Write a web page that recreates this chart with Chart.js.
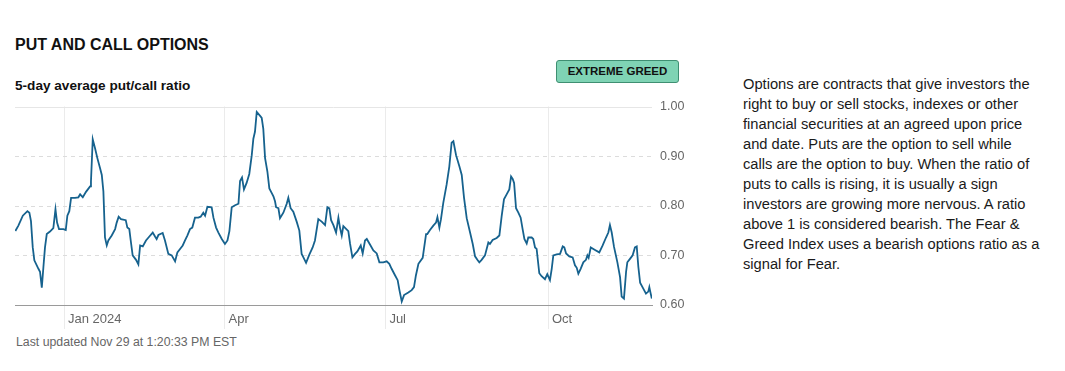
<!DOCTYPE html>
<html>
<head>
<meta charset="utf-8">
<script src="https://cdn.jsdelivr.net/npm/chart.js@4"></script>
<style>
  body { margin: 0; background: #fff; font-family: "Liberation Sans", Arial, sans-serif; color: #111; }
  #wrap { position: relative; width: 1065px; height: 371px; overflow: hidden; }
  .title { position: absolute; left: 15px; top: 36px; font-size: 16px; line-height: 18px; font-weight: bold; color: #111; }
  .sub { position: absolute; left: 15px; top: 78px; font-size: 13.6px; line-height: 16px; font-weight: bold; color: #111; }
  .badge { position: absolute; left: 556px; top: 60px; width: 121px; height: 21px; background: #7fd3b4; border: 1px solid #3f8f72; border-radius: 3px;
           font-size: 11.5px; line-height: 21px; font-weight: bold; text-align: center; color: #111; }
  .updated { position: absolute; left: 16px; top: 334px; font-size: 12.3px; line-height: 16px; color: #666; }
  .desc { position: absolute; left: 743px; top: 74px; width: 320px; font-size: 14.7px; line-height: 20px; color: #1a1a1a; white-space: nowrap; }
  #box { position: absolute; left: 15px; top: 91px; width: 677px; height: 239px; }
</style>
</head>
<body>
<div id="wrap">
  <div class="title">PUT AND CALL OPTIONS</div>
  <div class="sub">5-day average put/call ratio</div>
  <div class="badge">EXTREME GREED</div>
  <div id="box"><canvas id="pcChart"></canvas></div>
  <div class="updated">Last updated Nov 29 at 1:20:33 PM EST</div>
  <div class="desc">Options are contracts that give investors the<br>right to buy or sell stocks, indexes or other<br>financial securities at an agreed upon price<br>and date. Puts are the option to sell while<br>calls are the option to buy. When the ratio of<br>puts to calls is rising, it is usually a sign<br>investors are growing more nervous. A ratio<br>above 1 is considered bearish. The Fear &amp;<br>Greed Index uses a bearish options ratio as a<br>signal for Fear.</div>
</div>
<script>
// x position of each reading, in days counted from the start of 2024 (approx.)
const days = [
  -28.0, -26.3, -23.8, -21.2, -20.1, -19.2, -18.2, -17.3, -15.0, -14.1, -13.1, -12.2, -11.3, -10.3, -8.5, -6.6, -5.4, -4.5, -3.4, -0.9,
  0.4, 1.3, 2.4, 3.4, 5.6, 7.5, 8.5, 10.0, 11.8, 14.1, 14.6, 15.6, 16.9, 18.2, 19.7, 20.7, 21.6, 22.5, 23.5, 24.4,
  26.3, 28.2, 29.1, 30.2, 31.5, 34.2, 35.1, 36.2, 37.0, 38.1, 40.0, 41.3, 42.3, 43.8, 45.6, 47.5, 49.4, 50.7, 51.6, 52.6,
  55.0, 56.3, 58.2, 60.1, 62.0, 63.3, 64.8, 66.3, 67.6, 68.9, 70.4, 71.7, 73.2, 75.1, 76.4, 77.9, 78.9, 80.2, 82.6, 83.6,
  85.1, 86.4, 88.3, 90.1, 91.5, 92.6, 93.9, 95.8, 97.7, 98.6, 99.7, 100.8, 102.3, 103.8, 105.2, 106.1, 107.0, 108.0, 109.9, 110.8,
  111.7, 112.7, 114.0, 115.1, 116.4, 117.4, 118.3, 118.9, 120.2, 121.1, 123.0, 124.9, 125.8, 127.1, 128.6, 130.5, 132.0, 133.3, 134.3, 135.8,
  137.7, 139.5, 140.8, 142.7, 144.6, 146.5, 147.8, 148.9, 149.9, 151.2, 152.7, 154.0, 154.9, 155.9, 156.8, 159.6, 160.6, 161.9, 163.4, 164.7,
  166.6, 167.7, 169.0, 170.0, 171.8, 173.7, 175.6, 177.1, 179.3, 181.2, 182.7, 184.0, 185.9, 187.4, 188.4, 189.7, 191.0, 193.4, 195.3, 196.6,
  197.7, 199.1, 201.5, 203.4, 204.1, 205.6, 207.5, 209.0, 209.8, 210.9, 211.8, 213.1, 215.0, 216.5, 217.8, 218.8, 220.3, 222.2, 223.5, 224.8,
  226.3, 228.2, 229.7, 231.0, 232.3, 233.4, 234.7, 236.6, 238.5, 239.4, 240.9, 243.2, 244.7, 246.0, 247.3, 248.8, 250.3, 251.3, 252.2, 253.0,
  254.1, 255.4, 256.7, 257.8, 258.8, 260.1, 261.0, 262.9, 263.8, 264.8, 265.7, 267.2, 268.5, 270.4, 271.7, 273.2, 274.2, 275.1, 277.0, 278.9,
  280.4, 281.3, 282.3, 284.1, 286.0, 287.3, 288.3, 289.2, 290.5, 292.0, 293.5, 294.3, 295.0, 296.2, 298.6, 301.0, 302.9, 304.8, 306.1, 307.0,
  308.0, 309.3, 311.2, 312.7, 313.6, 314.9, 316.1, 316.8, 318.3, 319.8, 321.1, 322.1, 323.0, 324.0, 325.8, 327.3, 328.6, 329.2, 329.9, 330.6
];

// 5-day average put/call ratio
const ratio = [
  0.749, 0.760, 0.780, 0.789, 0.786, 0.769, 0.716, 0.690, 0.673, 0.667, 0.635, 0.676, 0.716, 0.743, 0.748, 0.755, 0.793, 0.766, 0.753, 0.753,
  0.751, 0.780, 0.789, 0.816, 0.816, 0.817, 0.823, 0.817, 0.828, 0.839, 0.849, 0.934, 0.916, 0.896, 0.876, 0.862, 0.829, 0.736, 0.720, 0.730,
  0.740, 0.753, 0.766, 0.778, 0.773, 0.771, 0.756, 0.753, 0.730, 0.700, 0.691, 0.682, 0.720, 0.718, 0.730, 0.738, 0.746, 0.738, 0.733, 0.741,
  0.745, 0.730, 0.703, 0.700, 0.688, 0.706, 0.713, 0.720, 0.730, 0.740, 0.753, 0.756, 0.776, 0.776, 0.778, 0.786, 0.780, 0.798, 0.797, 0.776,
  0.756, 0.746, 0.733, 0.723, 0.730, 0.749, 0.797, 0.801, 0.804, 0.850, 0.857, 0.833, 0.846, 0.864, 0.902, 0.935, 0.949, 0.989, 0.981, 0.977,
  0.955, 0.896, 0.869, 0.835, 0.826, 0.819, 0.809, 0.797, 0.795, 0.775, 0.786, 0.804, 0.816, 0.795, 0.788, 0.768, 0.750, 0.703, 0.696, 0.685,
  0.702, 0.716, 0.730, 0.773, 0.768, 0.761, 0.797, 0.795, 0.771, 0.761, 0.746, 0.776, 0.756, 0.740, 0.759, 0.749, 0.723, 0.696, 0.703, 0.708,
  0.720, 0.704, 0.730, 0.733, 0.722, 0.710, 0.704, 0.686, 0.686, 0.688, 0.683, 0.673, 0.660, 0.650, 0.630, 0.607, 0.620, 0.625, 0.630, 0.636,
  0.660, 0.683, 0.695, 0.743, 0.743, 0.751, 0.760, 0.766, 0.777, 0.756, 0.773, 0.806, 0.843, 0.879, 0.927, 0.930, 0.902, 0.879, 0.862, 0.816,
  0.775, 0.746, 0.723, 0.698, 0.691, 0.686, 0.691, 0.700, 0.726, 0.723, 0.731, 0.735, 0.740, 0.779, 0.813, 0.823, 0.833, 0.859, 0.854, 0.846,
  0.795, 0.786, 0.776, 0.753, 0.733, 0.724, 0.736, 0.736, 0.733, 0.716, 0.713, 0.664, 0.658, 0.652, 0.662, 0.650, 0.673, 0.700, 0.702, 0.703,
  0.718, 0.716, 0.704, 0.698, 0.696, 0.680, 0.675, 0.663, 0.673, 0.686, 0.691, 0.700, 0.695, 0.716, 0.711, 0.706, 0.720, 0.736, 0.746, 0.761,
  0.746, 0.717, 0.686, 0.656, 0.617, 0.613, 0.667, 0.686, 0.693, 0.700, 0.716, 0.718, 0.677, 0.645, 0.633, 0.623, 0.627, 0.636, 0.624, 0.613
];

// where the month labels sit (same day units as above)
const tickDays = [-0.4, 90.1, 180.7, 272.3];
const tickLabels = ['Jan 2024', 'Apr', 'Jul', 'Oct'];
const yTicks = [0.6, 0.7, 0.8, 0.9, 1.0];

// horizontal grid: solid line at the top, dashed in between
const yGrid = {
    id: 'yGrid',
    beforeDatasetsDraw(chart) {
        const ctx = chart.ctx;
        const area = chart.chartArea;
        const y = chart.scales.y;
        ctx.save();
        ctx.lineWidth = 1;
        yTicks.forEach(v => {
            if (v === 0.6) return;
            const py = Math.round(y.getPixelForValue(v)) + 0.5;
            ctx.strokeStyle = v === 1.0 ? '#e6e6e6' : '#dcdcdc';
            ctx.setLineDash(v === 1.0 ? [] : [4, 4]);
            ctx.beginPath();
            ctx.moveTo(area.left, py);
            ctx.lineTo(area.right, py);
            ctx.stroke();
        });
        ctx.restore();
    }
};

const ctx = document.getElementById('pcChart').getContext('2d');
new Chart(ctx, {
    type: 'line',
    data: {
        datasets: [{
            data: days.map((d, i) => ({ x: d, y: ratio[i] })),
            borderColor: '#16628e',
            borderWidth: 1.8,
            pointRadius: 0,
            tension: 0,
            fill: false
        }]
    },
    options: {
        responsive: true,
        maintainAspectRatio: false,
        animation: false,
        layout: { padding: { top: 9, left: 0, right: 0, bottom: 0 } },
        plugins: { legend: { display: false }, tooltip: { enabled: false } },
        scales: {
            x: {
                type: 'linear',
                min: -28.2,
                max: 330.7,
                afterBuildTicks: s => { s.ticks = tickDays.map(v => ({ value: v })); },
                afterFit: s => { s.height = 25; },
                grid: { color: '#ebebeb', drawTicks: true, tickLength: 24 },
                border: { display: true, color: '#9a9a9a', width: 1 },
                ticks: {
                    autoSkip: false,
                    maxRotation: 0,
                    align: 'start',
                    padding: -17,
                    color: '#666',
                    font: { family: '"Liberation Sans", Arial, sans-serif', size: 13 },
                    callback: (v, i) => ' ' + tickLabels[i]
                }
            },
            y: {
                position: 'right',
                min: 0.6,
                max: 1.0,
                afterBuildTicks: s => { s.ticks = yTicks.map(v => ({ value: v })); },
                afterFit: s => { s.width = 40; },
                grid: { display: false, drawTicks: false },
                border: { display: false },
                ticks: {
                    padding: 8,
                    color: '#666',
                    font: { family: '"Liberation Sans", Arial, sans-serif', size: 12.5 },
                    callback: v => v.toFixed(2)
                }
            }
        }
    },
    plugins: [yGrid]
});
</script>
</body>
</html>
